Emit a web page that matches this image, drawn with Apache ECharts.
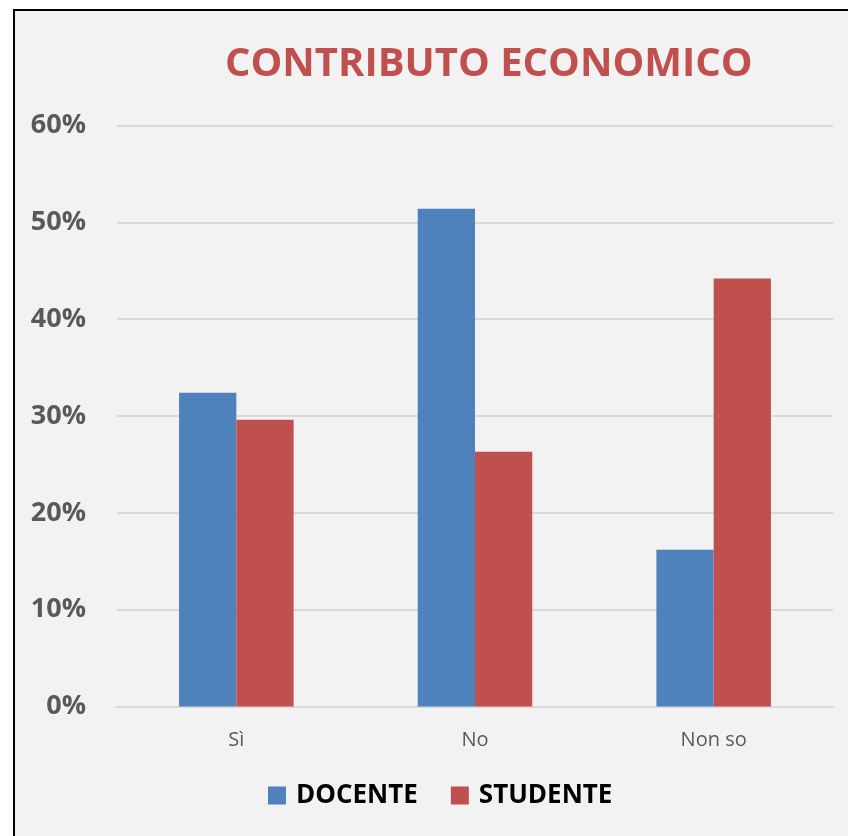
<!DOCTYPE html>
<html>
<head>
<meta charset="utf-8">
<script src="https://cdn.jsdelivr.net/npm/echarts@6/dist/echarts.min.js"></script>
<style>
html,body{margin:0;padding:0;background:#ffffff;width:848px;height:836px;overflow:hidden;}
#frame{position:absolute;left:13px;top:9px;width:900px;height:900px;border:2px solid #000;background:#F2F2F2;}
#chart{position:absolute;left:0;top:0;width:848px;height:836px;}
</style>
</head>
<body>
<div id="frame"></div>
<div id="chart"></div>
<script>
const titleText = 'CONTRIBUTO ECONOMICO';
const categories = ['Sì', 'No', 'Non so'];
const seriesNames = ['DOCENTE', 'STUDENTE'];
const docente = [0.324, 0.514, 0.162];
const studente = [0.296, 0.263, 0.442];
const yTicks = [0, 0.1, 0.2, 0.3, 0.4, 0.5, 0.6];

const chart = echarts.init(document.getElementById('chart'), null, {renderer: 'canvas'});
chart.setOption({
  backgroundColor: 'transparent',
  animation: false,
  title: {
    text: titleText,
    left: 220,
    top: 40,
    textStyle: {fontFamily: 'Open Sans', fontWeight: 'bold', fontSize: 40, color: '#C0504D'}
  },
  legend: {
    data: seriesNames,
    left: 268,
    top: 782.5,
    padding: 0,
    itemWidth: 18,
    itemHeight: 18,
    itemGap: 33,
    icon: 'rect',
    textStyle: {fontFamily: 'Open Sans', fontWeight: 'bold', fontSize: 26, color: '#000000', lineHeight: 18, padding: [0, 0, 0, 5]}
  },
  grid: {left: 117, right: 15, top: 125.5, bottom: 129.5, containLabel: false},
  xAxis: {
    type: 'category',
    data: categories,
    axisTick: {show: false},
    axisLine: {lineStyle: {color: '#D9D9D9', width: 2}},
    axisLabel: {fontFamily: 'Open Sans', fontSize: 20, color: '#595959', margin: 24}
  },
  yAxis: {
    type: 'value',
    min: yTicks[0],
    max: yTicks[yTicks.length - 1],
    interval: 0.1,
    axisLine: {show: false},
    axisTick: {show: false},
    splitLine: {lineStyle: {color: '#D9D9D9', width: 2}},
    axisLabel: {
      fontFamily: 'Open Sans', fontWeight: 'bold', fontSize: 27, color: '#595959', margin: 31,
      formatter: v => Math.round(v * 100) + '%'
    }
  },
  series: [
    {name: seriesNames[0], type: 'bar', data: docente, barGap: '0%', barCategoryGap: '52%',
     itemStyle: {color: '#4F81BD'}},
    {name: seriesNames[1], type: 'bar', data: studente, barGap: '0%', barCategoryGap: '52%',
     itemStyle: {color: '#C0504D'}}
  ]
});
</script>
</body>
</html>
